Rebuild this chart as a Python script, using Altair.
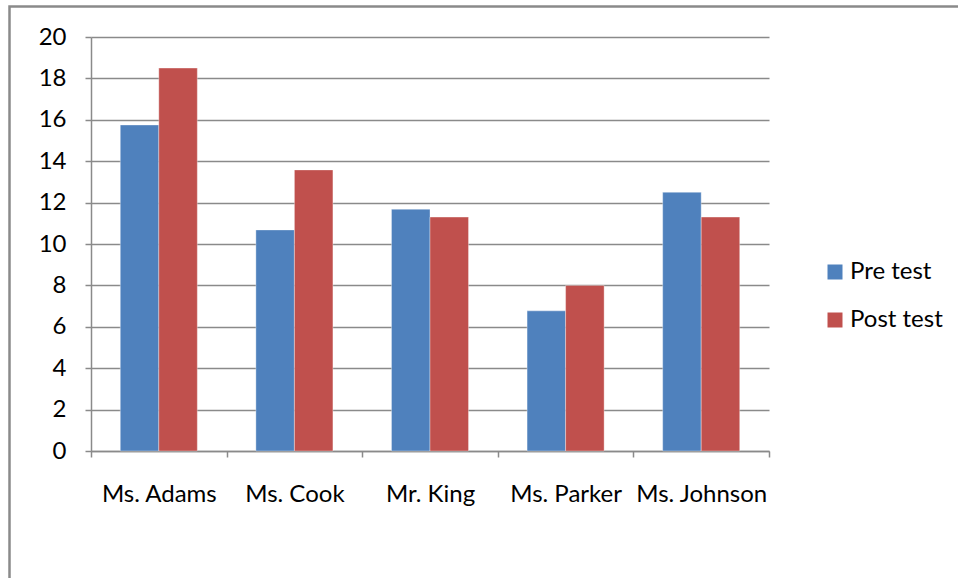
import altair as alt
import pandas as pd

teachers = ["Ms. Adams", "Ms. Cook", "Mr. King", "Ms. Parker", "Ms. Johnson"]
pre_test = [15.75, 10.68, 11.68, 6.77, 12.5]
post_test = [18.5, 13.58, 11.3, 8.0, 11.3]
series = ["Pre test", "Post test"]
colors = ["#4F81BD", "#C0504D"]
y_ticks = list(range(0, 21, 2))

rows = []
for t, a, b in zip(teachers, pre_test, post_test):
    rows.append({"teacher": t, "test": series[0], "score": a})
    rows.append({"teacher": t, "test": series[1], "score": b})
df = pd.DataFrame(rows)

FONT = "Lato"
GRID = "#8a8a8a"
FS = 24

bars = alt.Chart(df).mark_bar(strokeWidth=1, strokeOpacity=0.35, stroke="white").encode(
    x=alt.X("teacher:N", sort=teachers, title=None,
            scale=alt.Scale(paddingInner=0, paddingOuter=0),
            axis=alt.Axis(labelAngle=0, tickBand="extent", tickSize=6, labelPadding=25,
                          labelFontSize=FS, labelFont=FONT, labelColor="black",
                          domainColor=GRID, tickColor=GRID, domainWidth=1.5, tickWidth=1.5,
                          grid=False)),
    xOffset=alt.XOffset("test:N", sort=series,
                        scale=alt.Scale(paddingInner=0, paddingOuter=0.76)),
    y=alt.Y("score:Q", title=None,
            scale=alt.Scale(domain=[0, 20], nice=False),
            axis=alt.Axis(values=y_ticks, tickSize=6, labelPadding=19,
                          labelFontSize=FS, labelFont=FONT, labelColor="black",
                          domainColor=GRID, tickColor=GRID, domainWidth=1.5, tickWidth=1.5,
                          gridColor=GRID, gridWidth=1.5)),
    color=alt.Color("test:N", sort=series,
                    scale=alt.Scale(domain=series, range=colors),
                    legend=alt.Legend(title=None, orient="none", legendX=732, legendY=223,
                                      symbolType="square", symbolSize=225, symbolStrokeWidth=0,
                                      labelFontSize=FS, labelFont=FONT, labelColor="black",
                                      labelOffset=3, rowPadding=24, padding=0)),
)

border = alt.Chart(alt.Data(values=[{"b": 1}])).mark_rect(
    filled=False, stroke="#8a8a8a", strokeWidth=2.5
).encode(
    x=alt.value(-81.5), x2=alt.value(2000), y=alt.value(-30.5), y2=alt.value(2000)
)

chart = alt.layer(border, bars).properties(
    width=678, height=414,
    autosize=alt.AutoSizeParams(type="none"),
    padding={"left": 91, "top": 37, "right": 189, "bottom": 127},
    background="white",
).configure_view(strokeWidth=0)

chart.save("out.html", embed_options={"renderer": "svg", "actions": False})
